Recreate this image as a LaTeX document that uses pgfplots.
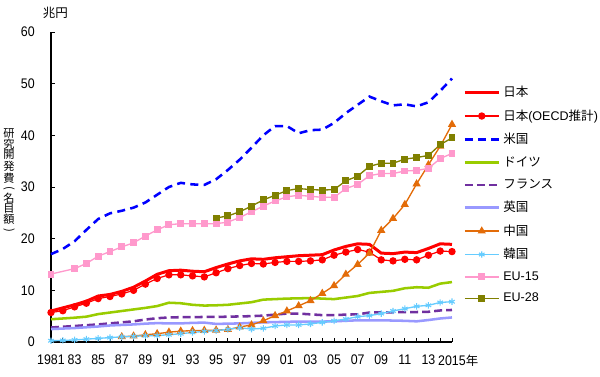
\documentclass[border=0pt]{standalone}
\usepackage{fontspec}
\setmainfont{Liberation Sans}
\newfontfamily\jp{Noto Sans CJK JP}
\usepackage{graphicx}
\usepackage{pgfplots}
\pgfplotsset{compat=1.18}
\definecolor{cJP}{HTML}{FF0000}
\definecolor{cUS}{HTML}{0000FF}
\definecolor{cDE}{HTML}{99CC00}
\definecolor{cFR}{HTML}{7030A0}
\definecolor{cUK}{HTML}{9999FF}
\definecolor{cCN}{HTML}{E36C09}
\definecolor{cKR}{HTML}{66CCFF}
\definecolor{cEUa}{HTML}{FF99CC}
\definecolor{cEUb}{HTML}{808000}
\newcommand\sx[1]{\scalebox{1}[1.12]{#1}}
\begin{document}
\begin{tikzpicture}
\useasboundingbox (0,0) rectangle (450pt,282.75pt);
\begin{axis}[
  at={(38.25pt,26.25pt)}, anchor=south west,
  scale only axis, width=300.75pt, height=232.5pt,
  xmin=1981, xmax=2015, ymin=0, ymax=60,
  axis x line=bottom, axis y line=left,
  axis line style={-, line width=0.9pt, black},
  clip=false,
  tick align=inside,
  major tick length=3pt, minor tick length=3pt,
  tick style={black, line width=0.7pt},
  ytick={0,10,...,60},
  yticklabel={\sx{\pgfmathprintnumber{\tick}}},
  xtick={1981,1983,...,2015},
  minor xtick={1982,1984,...,2014},
  xticklabels={\sx{1981},\sx{83},\sx{85},\sx{87},\sx{89},\sx{91},\sx{93},\sx{95},\sx{97},\sx{99},\sx{01},\sx{03},\sx{05},\sx{07},\sx{09},\sx{11},\sx{13},\sx{2015}\rlap{\jp 年}},
  /pgf/number format/assume math mode=true,
  yticklabel style={font=\fontsize{9.3}{11}\selectfont, xshift=-8.7pt},
  xticklabel style={font=\fontsize{9.3}{11}\selectfont, yshift=-6pt},
  legend style={at={(axis description cs:1.0274,0.8255)}, anchor=north west,
    draw=none, fill=none, inner sep=0pt, row sep=8.15pt, column sep=2.25pt,
    font=\fontsize{9.4}{11}\selectfont, cells={anchor=west},
    nodes={inner sep=0pt}},
  legend cell align=left,
  legend image code/.code={\draw[mark repeat=2,mark phase=2,#1] plot coordinates {(0pt,0pt) (12.75pt,0pt) (25.5pt,0pt)};},
]
% Japan
\addplot[cJP, line width=2.25pt, no marks] coordinates {
(1981,6.0)(1982,6.6)(1983,7.2)(1984,7.9)(1985,8.9)(1986,9.2)(1987,9.8)(1988,10.6)(1989,11.8)(1990,13.1)
(1991,13.8)(1992,13.9)(1993,13.7)(1994,13.6)(1995,14.4)(1996,15.1)(1997,15.7)(1998,16.1)(1999,16.0)(2000,16.3)
(2001,16.5)(2002,16.7)(2003,16.8)(2004,16.9)(2005,17.8)(2006,18.5)(2007,19.0)(2008,18.9)(2009,17.2)(2010,17.1)
(2011,17.4)(2012,17.3)(2013,18.1)(2014,19.0)(2015,18.9)};
\addlegendentry{\jp 日本}
% Japan OECD
\addplot[cJP, line width=0.9pt, mark=*, mark size=2.3pt, mark options={solid, fill=cJP}] coordinates {
(1981,5.7)(1982,6.05)(1983,6.8)(1984,7.5)(1985,8.4)(1986,8.8)(1987,9.3)(1988,10.0)(1989,11.2)(1990,12.3)
(1991,13.0)(1992,13.0)(1993,12.8)(1994,12.6)(1995,13.4)(1996,14.2)(1997,14.8)(1998,15.2)(1999,15.1)(2000,15.4)
(2001,15.6)(2002,15.6)(2003,15.7)(2004,15.9)(2005,16.8)(2006,17.4)(2007,17.9)(2008,17.4)(2009,15.9)(2010,15.7)
(2011,16.0)(2012,15.9)(2013,16.8)(2014,17.6)(2015,17.5)};
\addlegendentry{{\jp 日本}(OECD{\jp 推計})}
% USA
\addplot[cUS, line width=1.9pt, no marks, dash pattern=on 6pt off 4pt] coordinates {
(1981,17.0)(1982,18.0)(1983,19.5)(1984,21.7)(1985,23.8)(1986,24.9)(1987,25.4)(1988,26.0)(1989,27.0)(1990,28.5)
(1991,30.0)(1992,30.8)(1993,30.5)(1994,30.4)(1995,31.5)(1996,33.3)(1997,35.3)(1998,37.6)(1999,40.0)(2000,41.8)
(2001,41.8)(2002,40.4)(2003,41.0)(2004,41.1)(2005,42.4)(2006,44.3)(2007,45.9)(2008,47.5)(2009,46.6)(2010,45.8)
(2011,46.0)(2012,45.6)(2013,46.4)(2014,48.6)(2015,51.0)};
\addlegendentry{\jp 米国}
% Germany
\addplot[cDE, line width=1.9pt, no marks] coordinates {
(1981,4.4)(1982,4.55)(1983,4.7)(1984,4.9)(1985,5.4)(1986,5.7)(1987,6.0)(1988,6.3)(1989,6.6)(1990,6.95)
(1991,7.6)(1992,7.5)(1993,7.2)(1994,7.05)(1995,7.1)(1996,7.2)(1997,7.45)(1998,7.7)(1999,8.2)(2000,8.3)
(2001,8.4)(2002,8.45)(2003,8.5)(2004,8.4)(2005,8.3)(2006,8.6)(2007,8.9)(2008,9.5)(2009,9.7)(2010,9.9)
(2011,10.4)(2012,10.6)(2013,10.5)(2014,11.3)(2015,11.6)};
\addlegendentry{\jp ドイツ}
% France
\addplot[cFR, line width=1.9pt, no marks, dash pattern=on 6pt off 3pt] coordinates {
(1981,2.8)(1982,2.95)(1983,3.1)(1984,3.25)(1985,3.4)(1986,3.6)(1987,3.8)(1988,4.0)(1989,4.35)(1990,4.6)
(1991,4.75)(1992,4.8)(1993,4.8)(1994,4.85)(1995,4.85)(1996,4.9)(1997,4.95)(1998,5.0)(1999,5.1)(2000,5.3)
(2001,5.5)(2002,5.5)(2003,5.35)(2004,5.2)(2005,5.2)(2006,5.3)(2007,5.35)(2008,5.7)(2009,5.75)(2010,5.75)
(2011,5.8)(2012,5.8)(2013,5.85)(2014,6.1)(2015,6.2)};
\addlegendentry{\jp フランス}
% UK
\addplot[cUK, line width=1.9pt, no marks] coordinates {
(1981,2.5)(1982,2.6)(1983,2.7)(1984,2.85)(1985,3.0)(1986,3.2)(1987,3.3)(1988,3.4)(1989,3.55)(1990,3.65)
(1991,3.6)(1992,3.6)(1993,3.7)(1994,3.75)(1995,3.5)(1996,3.55)(1997,3.6)(1998,3.7)(1999,3.8)(2000,3.85)
(2001,3.9)(2002,3.95)(2003,3.95)(2004,3.95)(2005,4.0)(2006,4.1)(2007,4.2)(2008,4.2)(2009,4.2)(2010,4.15)
(2011,4.1)(2012,4.0)(2013,4.25)(2014,4.55)(2015,4.75)};
\addlegendentry{\jp 英国}
% China
\addplot[cCN, line width=1pt, mark=triangle*, mark size=2.6pt, mark options={solid, fill=cCN}] coordinates {
(1987,1.0)(1988,1.15)(1989,1.4)(1990,1.6)
(1991,1.9)(1992,2.1)(1993,2.2)(1994,2.25)(1995,2.3)(1996,2.4)(1997,2.9)(1998,3.3)(1999,4.1)(2000,5.1)
(2001,6.0)(2002,7.0)(2003,8.0)(2004,9.4)(2005,10.9)(2006,13.1)(2007,15.0)(2008,17.2)(2009,21.6)(2010,23.9)
(2011,26.6)(2012,30.6)(2013,34.3)(2014,37.9)(2015,42.1)};
\addlegendentry{\jp 中国}
% Korea
\addplot[cKR, line width=1pt, mark=asterisk, mark size=2.4pt, mark options={solid, line width=0.8pt}] coordinates {
(1981,0.25)(1982,0.3)(1983,0.4)(1984,0.55)(1985,0.7)(1986,0.85)(1987,1.0)(1988,1.1)(1989,1.2)(1990,1.25)
(1991,1.4)(1992,1.6)(1993,1.85)(1994,2.05)(1995,2.2)(1996,2.45)(1997,2.75)(1998,2.5)(1999,2.65)(2000,3.1)
(2001,3.3)(2002,3.3)(2003,3.5)(2004,3.8)(2005,4.1)(2006,4.45)(2007,4.9)(2008,5.1)(2009,5.5)(2010,6.0)
(2011,6.45)(2012,6.9)(2013,7.1)(2014,7.65)(2015,7.8)};
\addlegendentry{\jp 韓国}
% EU-15
\addplot[cEUa, line width=1pt, mark=square*, mark size=2.1pt, mark options={solid, fill=cEUa}] coordinates {
(1981,13.15)(1983,14.2)(1984,15.2)(1985,16.6)(1986,17.5)(1987,18.4)(1988,19.2)(1989,20.5)(1990,21.7)
(1991,22.7)(1992,22.9)(1993,22.9)(1994,22.9)(1995,22.9)(1996,23.2)(1997,24.1)(1998,25.2)(1999,26.3)(2000,27.3)
(2001,28.1)(2002,28.4)(2003,28.2)(2004,28.0)(2005,28.0)(2006,29.7)(2007,30.5)(2008,32.2)(2009,32.6)(2010,32.6)
(2011,33.1)(2012,33.2)(2013,33.6)(2014,35.5)(2015,36.5)};
\addlegendentry{EU-15}
% EU-28
\addplot[cEUb, line width=1pt, mark=square*, mark size=2.1pt, mark options={solid, fill=cEUb}] coordinates {
(1995,24.0)(1996,24.4)(1997,25.2)(1998,26.3)(1999,27.5)(2000,28.4)
(2001,29.3)(2002,29.7)(2003,29.5)(2004,29.4)(2005,29.5)(2006,31.2)(2007,32.1)(2008,34.0)(2009,34.6)(2010,34.6)
(2011,35.4)(2012,35.7)(2013,36.1)(2014,38.2)(2015,39.5)};
\addlegendentry{EU-28}
\node[font=\jp\fontsize{9.4}{11}\selectfont, inner sep=0pt] at (axis description cs:0.011,1.063) {兆円};
\node[font=\jp\fontsize{8.4}{7.5}\selectfont, align=center, inner sep=0pt] at (axis description cs:-0.1047,0.519)
 {研\\究\\開\\発\\費\\\rotatebox[origin=c]{-90}{(}\\名\\目\\額\\\rotatebox[origin=c]{-90}{)}};
\end{axis}
\end{tikzpicture}
\end{document}
